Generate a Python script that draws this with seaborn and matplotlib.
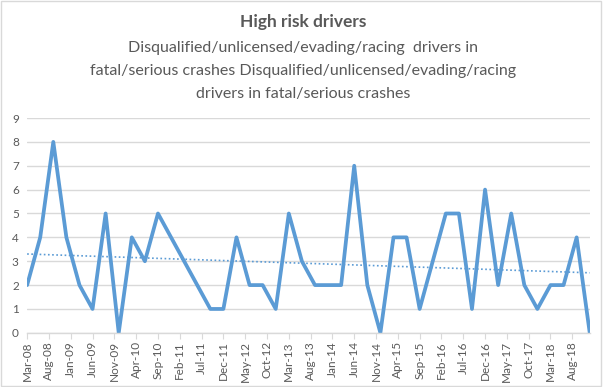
import numpy as np
import pandas as pd
import matplotlib
matplotlib.use("Agg")
import matplotlib.pyplot as plt
from matplotlib.patches import Rectangle
import seaborn as sns

# quarterly counts, Mar-08 .. Dec-18
quarters = pd.date_range("2008-03-01", "2018-12-01", freq="3MS")
drivers = [2, 4, 8, 4,
           2, 1, 5, 0,
           4, 3, 5, 4,
           3, 2, 1, 1,
           4, 2, 2, 1,
           5, 3, 2, 2,
           2, 7, 2, 0,
           4, 4, 1, 3,
           5, 5, 1, 6,
           2, 5, 2, 1,
           2, 2, 4, 0]
tick_dates = pd.date_range("2008-03-01", "2018-08-01", freq="5MS")
tick_labels = [d.strftime("%b-%y") for d in tick_dates]

title = "High risk drivers"
subtitle = ["Disqualified/unlicensed/evading/racing  drivers in",
            "fatal/serious crashes Disqualified/unlicensed/evading/racing",
            "drivers in fatal/serious crashes"]

# months since Mar-08 as x position
def month_idx(d):
    return (d.year - 2008) * 12 + d.month - 3

df = pd.DataFrame({"month": [month_idx(d) for d in quarters], "drivers": drivers})
tick_pos = [month_idx(d) for d in tick_dates]

sns.set_theme(style="white")
plt.rcParams["font.family"] = ["Lato", "DejaVu Sans"]

blue = "#5B9BD5"
grey_txt = "#595959"

fig = plt.figure(figsize=(6.03, 3.87), dpi=100)
ax = fig.add_axes([0.045, 0.14, 0.933, 0.555])

sns.lineplot(data=df, x="month", y="drivers", ax=ax, color=blue, linewidth=2.7)

# linear trendline
coef = np.polyfit(df["month"], df["drivers"], 1)
xs = np.array([df["month"].min(), df["month"].max()])
ax.plot(xs, np.polyval(coef, xs), color=blue, linestyle=(0, (1, 1.5)), linewidth=1.2)

ax.set_xlim(0, df["month"].max())
ax.set_ylim(0, 9)
ax.set_yticks(range(10))
ax.yaxis.grid(True, color="#D9D9D9", linewidth=1)
ax.set_xticks(tick_pos)
ax.set_xticklabels(tick_labels, rotation=90)
ax.tick_params(axis="x", colors=grey_txt, labelsize=8.5, length=4, width=0.8,
               bottom=True, direction="out", pad=2)
ax.tick_params(axis="x", color="#D9D9D9")
ax.tick_params(axis="y", colors=grey_txt, labelsize=8.5, length=0, pad=6)
ax.set_xlabel("")
ax.set_ylabel("")
for s in ["top", "right", "left"]:
    ax.spines[s].set_visible(False)
ax.spines["bottom"].set_color("#D9D9D9")
ax.spines["bottom"].set_linewidth(1)

fig.text(0.502, 1 - 22 / 387, title, ha="center", va="center", fontsize=12.5,
         fontweight="bold", color=grey_txt)
for i, line in enumerate(subtitle):
    fig.text(0.502, 1 - (48 + 23 * i) / 387, line, ha="center", va="center",
             fontsize=11.5, color=grey_txt)

fig.patches.append(Rectangle((0.002, 0.003), 0.995, 0.994, transform=fig.transFigure,
                             fill=False, edgecolor="#D9D9D9", linewidth=1))

fig.savefig("out.png", dpi=100)
